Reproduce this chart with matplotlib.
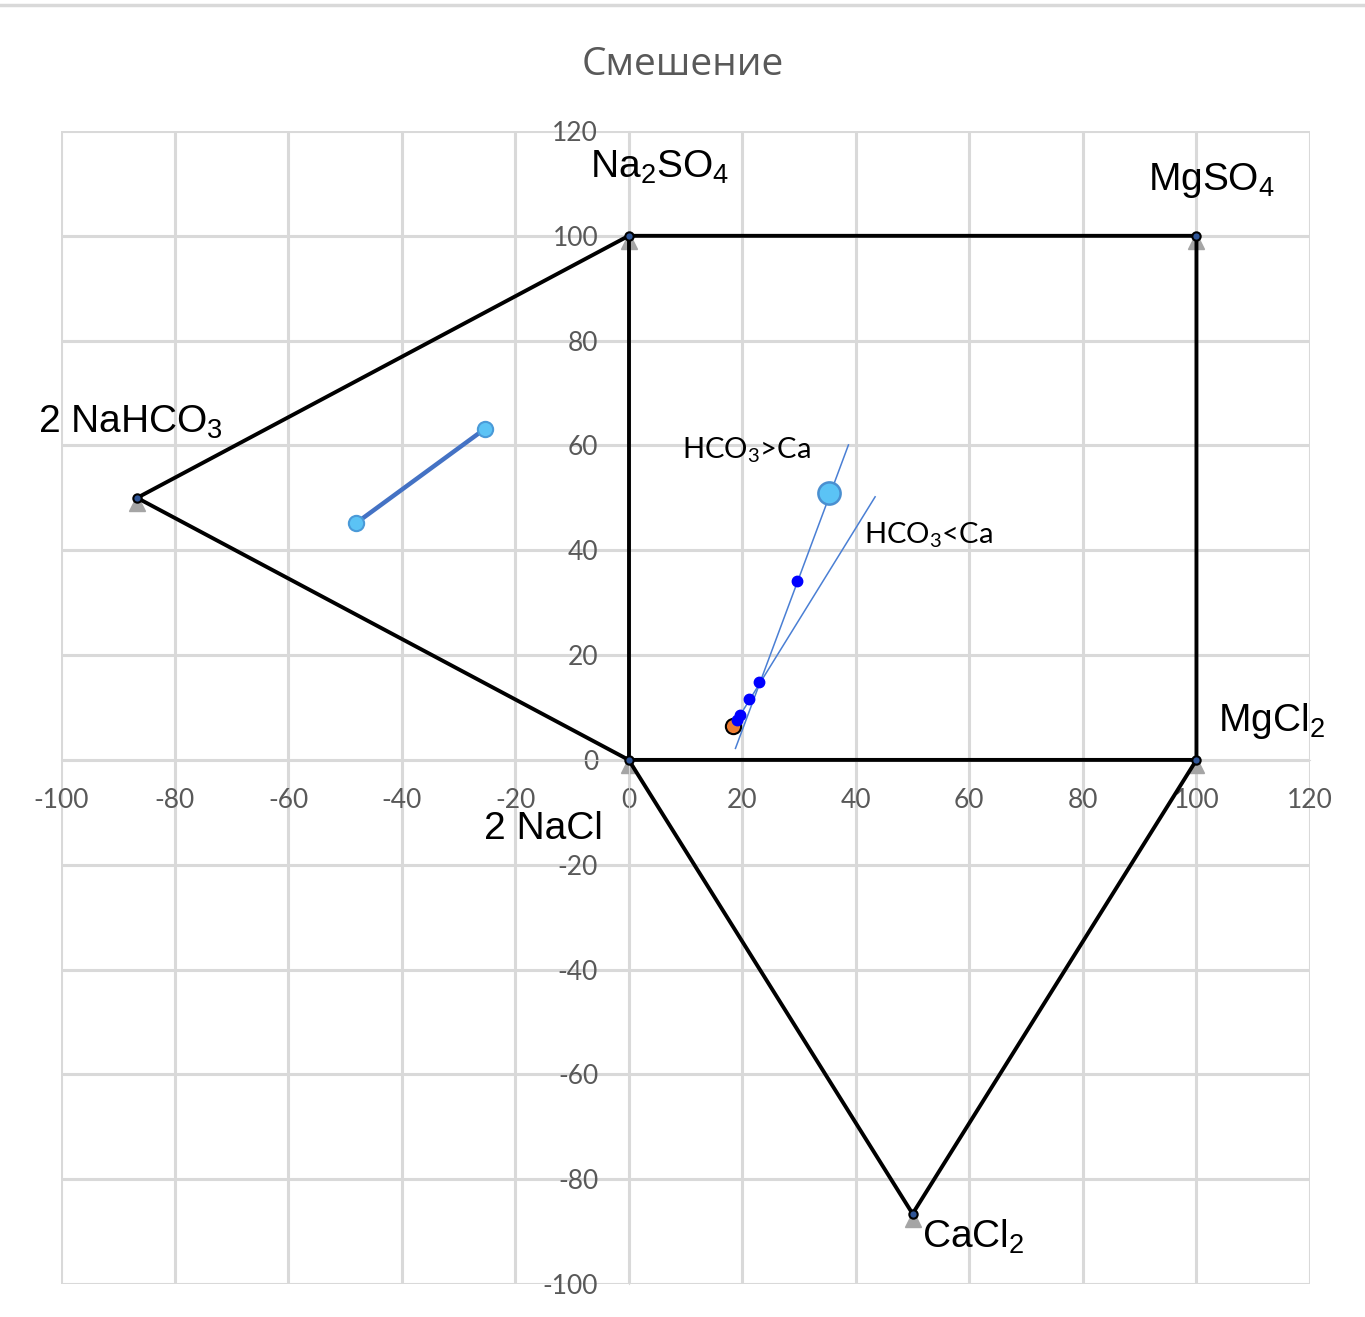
import matplotlib.pyplot as plt
from matplotlib.lines import Line2D
import numpy as np

plt.rcParams["axes.unicode_minus"] = False

# diagram vertices (x, y)
vert_names = ["2 NaHCO3", "Na2SO4", "MgSO4", "MgCl2", "2 NaCl", "CaCl2"]
vert_x = [-86.6, 0, 100, 100, 0, 50]
vert_y = [50, 100, 100, 0, 0, -86.6]

# outline paths through the vertices (indices)
outline = [0, 1, 2, 3, 4, 0]
middle = [1, 4]
bottom = [4, 5, 3]

# mixing segment on the left
seg_x = [-48.0, -25.3]
seg_y = [45.2, 63.2]

# sample points
pts_x = [19.0, 19.6, 21.2, 22.9, 29.6]
pts_y = [7.6, 8.6, 11.6, 14.9, 34.2]
big_x, big_y = 35.2, 50.9
orange_x, orange_y = 18.4, 6.4

# trend lines
gt_x = [18.8, 38.7]
gt_y = [2.2, 60.1]
lt_x = [18.4, 43.4]
lt_y = [6.4, 50.2]

ticks = np.arange(-100, 121, 20)

fig = plt.figure(figsize=(13.65, 13.17), dpi=100)
ax = fig.add_axes([61/1365, 1-1284/1317, 1249/1365, 1153/1317])

ax.set_xlim(-100, 120)
ax.set_ylim(-100, 120)
ax.set_xticks(ticks)
ax.set_yticks(ticks)
ax.grid(True, color="#d9d9d9", lw=2.2)
ax.set_axisbelow(True)

for s in ["top", "right"]:
    ax.spines[s].set_visible(False)
ax.spines["left"].set_position(("data", 0))
ax.spines["bottom"].set_position(("data", 0))
ax.spines["left"].set_color("#d9d9d9")
ax.spines["bottom"].set_color("#d9d9d9")
ax.tick_params(length=0, labelsize=19, labelcolor="#595959")
ax.tick_params(axis="y", pad=22)
ax.tick_params(axis="x", pad=20)
for lab in ax.get_xticklabels() + ax.get_yticklabels():
    lab.set_family("Lato")

vx = np.array(vert_x)
vy = np.array(vert_y)
for path in [outline, middle, bottom]:
    ax.plot(vx[path], vy[path], color="black", lw=2.8, zorder=3)
ax.plot(vx, vy - 1.0, "^", color="#a5a5a5", ms=11, ls="none", zorder=2)
ax.plot(vx, vy, "o", mfc="#2f5597", mec="black", ms=6, mew=1.5, ls="none", zorder=4)

ax.plot(seg_x, seg_y, "-o", color="#4472c4", lw=3.2, ms=11,
        mfc="#5bc3f5", mec="#4a9ad8", mew=1.5, zorder=4)

ax.plot(gt_x, gt_y, color="#4a7fd4", lw=1.1, zorder=4)
ax.plot(lt_x, lt_y, color="#4a7fd4", lw=1.1, zorder=4)
ax.plot(orange_x, orange_y, "o", mfc="#ed7d31", mec="black", mew=1.5, ms=11, zorder=5)
ax.plot(pts_x, pts_y, "o", color="#0000ff", ms=7.5, zorder=6)
ax.plot(big_x, big_y, "o", mfc="#5bc3f5", mec="#4a8fd0", mew=1.8, ms=16, zorder=6)

lbl = dict(fontsize=28, family="Liberation Sans", color="black", va="center", zorder=7)
ax.text(-6.8, 113, r"Na$\mathregular{_2}$SO$\mathregular{_4}$", ha="left", **lbl)
ax.text(91.5, 110.5, r"MgSO$\mathregular{_4}$", ha="left", **lbl)
ax.text(-104, 64.5, r"2 NaHCO$\mathregular{_3}$", ha="left", **lbl)
ax.text(103.8, 7.5, r"MgCl$\mathregular{_2}$", ha="left", **lbl)
ax.text(-25.5, -13.2, "2 NaCl", ha="left", **lbl)
ax.text(51.7, -91, r"CaCl$\mathregular{_2}$", ha="left", **lbl)

small = dict(fontsize=21, family="Lato", color="black", va="center", ha="left", zorder=7)
ax.text(9.4, 59.1, r"HCO$\mathregular{_3}$>Ca", **small)
ax.text(41.4, 42.9, r"HCO$\mathregular{_3}$<Ca", **small)

fig.text(0.5, 1-65/1317, "Смешение", ha="center", va="center",
         fontsize=28, family="Open Sans", color="#595959")
fig.add_artist(Line2D([0, 1], [1-5/1317, 1-5/1317], color="#d9d9d9", lw=2.5))

fig.savefig("out.png", dpi=100)
